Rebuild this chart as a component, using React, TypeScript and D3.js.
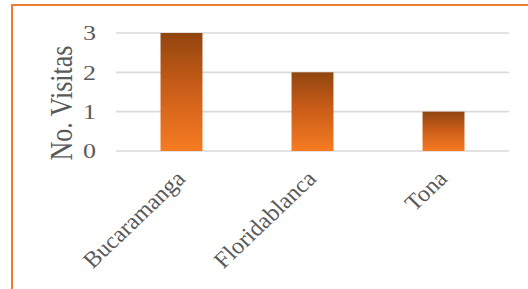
import React from 'react';
import * as d3 from 'd3';

const categories = ['Bucaramanga', 'Floridablanca', 'Tona'];
const visits = [3, 2, 1];
const yTicks = [0, 1, 2, 3];

const W = 528;
const H = 289;
const plot = { left: 116, right: 509, top: 33, bottom: 151 };
const sx = 1.18; // picture is a bit wider than tall

export default function App() {
  const x = d3.scaleBand<string>()
    .domain(categories)
    .range([plot.left, plot.right])
    .paddingInner(0.68)
    .paddingOuter(0.34);

  const y = d3.scaleLinear()
    .domain([0, 3])
    .range([plot.bottom, plot.top]);

  const font = "'Liberation Serif', 'Times New Roman', serif";

  return (
    <div style={{ position: 'fixed', left: 0, top: 0, width: W, height: H, background: '#fff' }}>
      <svg width={W} height={H} viewBox={`0 0 ${W} ${H}`}>
        <defs>
          <linearGradient id="barGrad" x1="0" y1="0" x2="0" y2="1">
            <stop offset="0%" stopColor="#91450f" />
            <stop offset="45%" stopColor="#c85c18" />
            <stop offset="100%" stopColor="#f77b22" />
          </linearGradient>
        </defs>

        {/* outer frame */}
        <rect x={12} y={5} width={W} height={H} fill="none" stroke="#ed7d31" strokeWidth={2} />

        {/* gridlines */}
        {yTicks.map(t => (
          <line key={t} x1={plot.left} x2={plot.right} y1={y(t)} y2={y(t)}
            stroke="#d9d9d9" strokeWidth={1.6} />
        ))}

        {/* bars */}
        {categories.map((c, i) => (
          <rect key={c} x={x(c)} y={y(visits[i])} width={x.bandwidth()}
            height={y(0) - y(visits[i])} fill="url(#barGrad)" />
        ))}

        {/* y tick labels */}
        {yTicks.map(t => (
          <text key={t} transform={`translate(96,${y(t)}) scale(${sx},1)`}
            dy="0.34em" textAnchor="end" fontFamily={font} fontSize={22} fill="#595959">
            {t}
          </text>
        ))}

        {/* y title */}
        <text transform={`translate(72,103) scale(${sx},1) rotate(-90)`}
          textAnchor="middle" fontFamily={font} fontSize={26} fill="#595959">
          No. Visitas
        </text>

        {/* x labels */}
        {categories.map(c => (
          <text key={c}
            transform={`translate(${(x(c) ?? 0) + x.bandwidth() / 2 + 5},180) scale(1.05,1) rotate(-45)`}
            textAnchor="end" fontFamily={font} fontSize={23} fill="#595959">
            {c}
          </text>
        ))}
      </svg>
    </div>
  );
}
